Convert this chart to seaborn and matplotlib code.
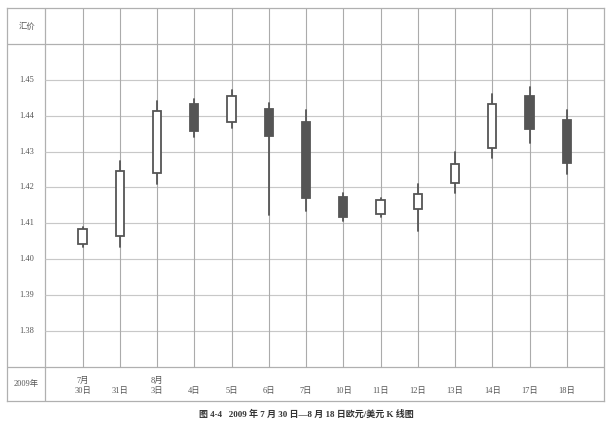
import numpy as np
import pandas as pd
import matplotlib
matplotlib.use("Agg")
import matplotlib.pyplot as plt
import seaborn as sns

# ---- data ----
months = ["7月", "", "8月", "", "", "", "", "", "", "", "", "", "", ""]
days = ["30日", "31日", "3日", "4日", "5日", "6日", "7日", "10日", "11日", "12日",
        "13日", "14日", "17日", "18日"]
opens = [1.4042, 1.4064, 1.4239, 1.4432, 1.4384, 1.4418, 1.4384, 1.4173, 1.4125,
         1.4140, 1.4212, 1.4310, 1.4455, 1.4387]
closes = [1.4083, 1.4246, 1.4414, 1.4358, 1.4456, 1.4344, 1.4170, 1.4118, 1.4164,
          1.4181, 1.4265, 1.4434, 1.4364, 1.4267]
highs = [1.4090, 1.4274, 1.4441, 1.4447, 1.4472, 1.4437, 1.4416, 1.4184, 1.4171,
         1.4210, 1.4299, 1.4462, 1.4481, 1.4416]
lows = [1.4035, 1.4035, 1.4210, 1.4342, 1.4367, 1.4123, 1.4135, 1.4107, 1.4118,
        1.4078, 1.4185, 1.4281, 1.4323, 1.4238]
yticks = [1.45, 1.44, 1.43, 1.42, 1.41, 1.40, 1.39, 1.38]
year_label = "2009年"
y_title = "汇价"
caption = "图 4-4   2009 年 7 月 30 日—8 月 18 日欧元/美元 K 线图"

sns.set_theme(style="white")
plt.rcParams["font.family"] = ["Liberation Serif", "Noto Sans CJK SC", "DejaVu Sans"]

W, H = 611, 433
fig = plt.figure(figsize=(W / 100, H / 100), dpi=100)
fig.patch.set_facecolor("white")

left_px, right_px, top_px, bot_px = 7.3, 604, 8.4, 401
ax = fig.add_axes([left_px / W, 1 - bot_px / H, (right_px - left_px) / W, (bot_px - top_px) / H])
ax.set_facecolor("white")

n = len(days)
xs = np.arange(1, n + 1)
ymax = 1.47
ymin = 1.47 - (bot_px - top_px) / 3581.0
ax.set_xlim(-1.02, 15)
ax.set_ylim(ymin, ymax)

frame_c = "#b0b0b0"
vgrid_c = "#ababab"
hgrid_c = "#c8c8c8"
for s in ax.spines.values():
    s.set_color(frame_c)
    s.set_linewidth(0.9)
ax.set_xticks([])
ax.set_yticks([])

# table lines
ax.hlines([1.46, 1.37], -1.02, 15, color=frame_c, lw=0.9, zorder=1)
ax.vlines([0], ymin, ymax, color=frame_c, lw=0.9, zorder=1)
ax.hlines(yticks, 0, 15, color=hgrid_c, lw=0.85, zorder=1)
ax.vlines(xs, 1.37, ymax, color=vgrid_c, lw=0.8, zorder=1)

# wicks via seaborn
wick_df = pd.DataFrame({
    "x": np.repeat(xs, 2),
    "y": np.ravel(np.column_stack([lows, highs])),
    "day": np.repeat(days, 2),
})
sns.lineplot(data=wick_df, x="x", y="y", units="day", estimator=None, sort=False,
             color="#555555", lw=1.3, ax=ax, zorder=2, legend=False)

# bodies
o = np.array(opens)
c = np.array(closes)
bottoms = np.minimum(o, c)
heights = np.abs(c - o)
faces = ["white" if cc > oo else "#555555" for oo, cc in zip(o, c)]
ax.bar(xs, heights, bottom=bottoms, width=0.22, color=faces, edgecolor="#555555",
       linewidth=1.3, zorder=3)

ax.set_xlabel("")
ax.set_ylabel("")
ax.set_xlim(-1.02, 15)
ax.set_ylim(ymin, ymax)

txt_c = "#555555"
ax.text(-0.5, 1.465, y_title, ha="center", va="center", fontsize=6, color=txt_c)
for v in yticks:
    ax.text(-0.5, v, f"{v:.2f}", ha="center", va="center", fontsize=6, color=txt_c)
ax.text(-0.5, 1.3651, year_label, ha="center", va="center", fontsize=6, color=txt_c)
for x, m, d in zip(xs, months, days):
    if m:
        ax.text(x, 1.3660, m, ha="center", va="center", fontsize=6, color=txt_c)
    ax.text(x, 1.3632, d, ha="center", va="center", fontsize=6, color=txt_c)

fig.text(306 / W, 1 - 414 / H, caption, ha="center", va="center", fontsize=6.5,
         fontweight="bold", color="#333333")

fig.savefig("out.png", dpi=100, facecolor="white")
